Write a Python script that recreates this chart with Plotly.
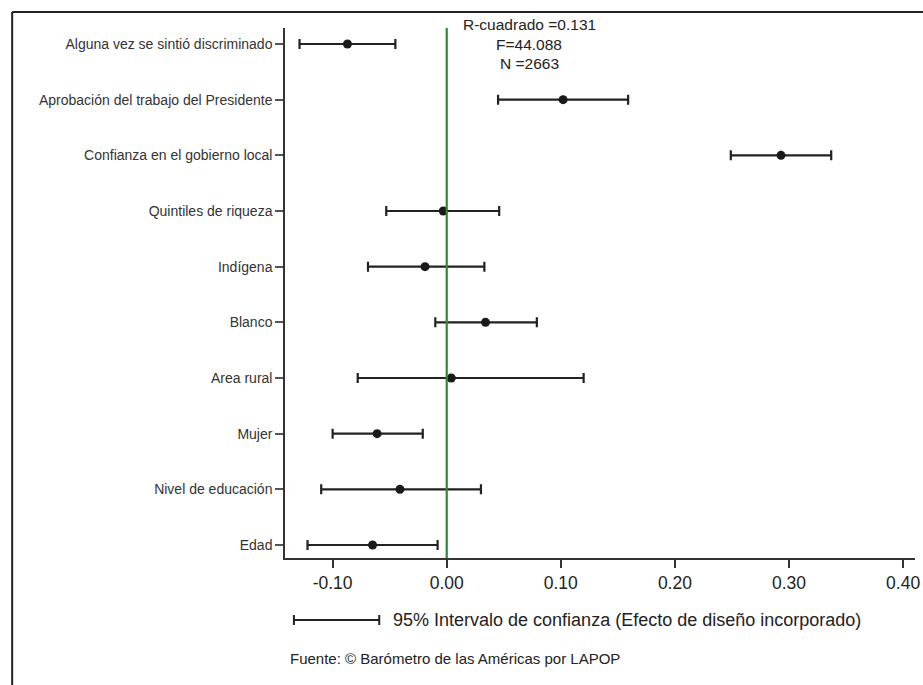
import plotly.graph_objects as go

# Data (bottom to top)
variables = ["Edad", "Nivel de educación", "Mujer", "Area rural", "Blanco",
             "Indígena", "Quintiles de riqueza", "Confianza en el gobierno local",
             "Aprobación del trabajo del Presidente", "Alguna vez se sintió discriminado"]
coef = [-0.065, -0.041, -0.061, 0.004, 0.034, -0.019, -0.003, 0.293, 0.102, -0.087]
ci_low = [-0.122, -0.110, -0.100, -0.078, -0.010, -0.069, -0.053, 0.249, 0.045, -0.129]
ci_high = [-0.008, 0.030, -0.021, 0.120, 0.079, 0.033, 0.046, 0.337, 0.159, -0.045]
xticks = [-0.10, 0.00, 0.10, 0.20, 0.30, 0.40]
xtick_labels = ["-0.10", "0.00", "0.10", "0.20", "0.30", "0.40"]
stats_text = ["R-cuadrado =0.131", "F=44.088", "N =2663"]
legend_text = "95% Intervalo de confianza (Efecto de diseño incorporado)"
source_text = "Fuente: © Barómetro de las Américas por LAPOP"

W, H = 923, 685
L, R, T, B = 285, 920, 28, 558  # plot area in pixels
FONT = "Liberation Sans, Arial, sans-serif"
DARK = "#222222"


def px(x):
    return (x - L) / (R - L)


def py(y):
    return (B - y) / (B - T)


err_plus = [h - c for h, c in zip(ci_high, coef)]
err_minus = [c - l for c, l in zip(coef, ci_low)]

fig = go.Figure()
fig.add_trace(go.Scatter(
    x=coef, y=variables, mode="markers",
    marker=dict(size=9, color="#1a1a1a"),
    error_x=dict(type="data", symmetric=False, array=err_plus, arrayminus=err_minus,
                 color=DARK, thickness=2.2, width=5),
    showlegend=False, hoverinfo="x+y",
))

shapes = [
    # zero reference line
    dict(type="line", xref="x", yref="paper", x0=0, x1=0, y0=0, y1=1,
         line=dict(color="#2a8a3c", width=2.2)),
    # figure frame (top and left)
    dict(type="line", xref="paper", yref="paper", x0=px(10), x1=px(W + 5), y0=py(12), y1=py(12),
         line=dict(color=DARK, width=2)),
    dict(type="line", xref="paper", yref="paper", x0=px(10), x1=px(10), y0=py(12), y1=py(H + 5),
         line=dict(color=DARK, width=2)),
    # legend sample
    dict(type="line", xref="paper", yref="paper", x0=px(294), x1=px(380), y0=py(620), y1=py(620),
         line=dict(color=DARK, width=2)),
    dict(type="line", xref="paper", yref="paper", x0=px(294), x1=px(294), y0=py(615), y1=py(625),
         line=dict(color=DARK, width=2)),
    dict(type="line", xref="paper", yref="paper", x0=px(380), x1=px(380), y0=py(615), y1=py(625),
         line=dict(color=DARK, width=2)),
]

annotations = []
for line_txt, yc in zip(stats_text, [24, 44, 64]):
    annotations.append(dict(text=line_txt, xref="paper", yref="paper", x=px(531), y=py(yc),
                            xanchor="center", yanchor="middle", showarrow=False,
                            font=dict(family=FONT, size=15.5, color=DARK)))
annotations += [
    dict(text=legend_text, xref="paper", yref="paper", x=px(392), y=py(620),
         xanchor="left", yanchor="middle", showarrow=False,
         font=dict(family=FONT, size=18, color=DARK)),
    dict(text=source_text, xref="paper", yref="paper", x=px(288), y=py(658),
         xanchor="left", yanchor="middle", showarrow=False,
         font=dict(family=FONT, size=15, color=DARK)),
]

fig.update_layout(
    width=W, height=H,
    margin=dict(l=L, r=W - R, t=T, b=H - B, pad=0),
    paper_bgcolor="white", plot_bgcolor="white",
    shapes=shapes, annotations=annotations,
    xaxis=dict(range=[(L - 448) / 1150, (R - 448) / 1150], tickvals=xticks,
               ticktext=xtick_labels, ticks="outside", ticklen=8, tickwidth=1.5,
               tickcolor="#333", showline=True, linecolor="#333", linewidth=1.5,
               showgrid=False, zeroline=False, ticklabeloverflow="allow",
               tickfont=dict(family=FONT, size=17.5, color=DARK)),
    yaxis=dict(type="category", categoryorder="array", categoryarray=variables,
               range=[-13 / 55.67, 9 + 16 / 55.67], ticks="outside", ticklen=8,
               tickwidth=1.5, tickcolor="#555", showline=True, linecolor="#333",
               linewidth=1.5, showgrid=False, zeroline=False,
               tickfont=dict(family=FONT, size=14, color="#333")),
)

fig.write_html("out.html", config={"displayModeBar": False},
               post_script="document.body.style.margin='0';document.body.style.overflow='hidden';")
